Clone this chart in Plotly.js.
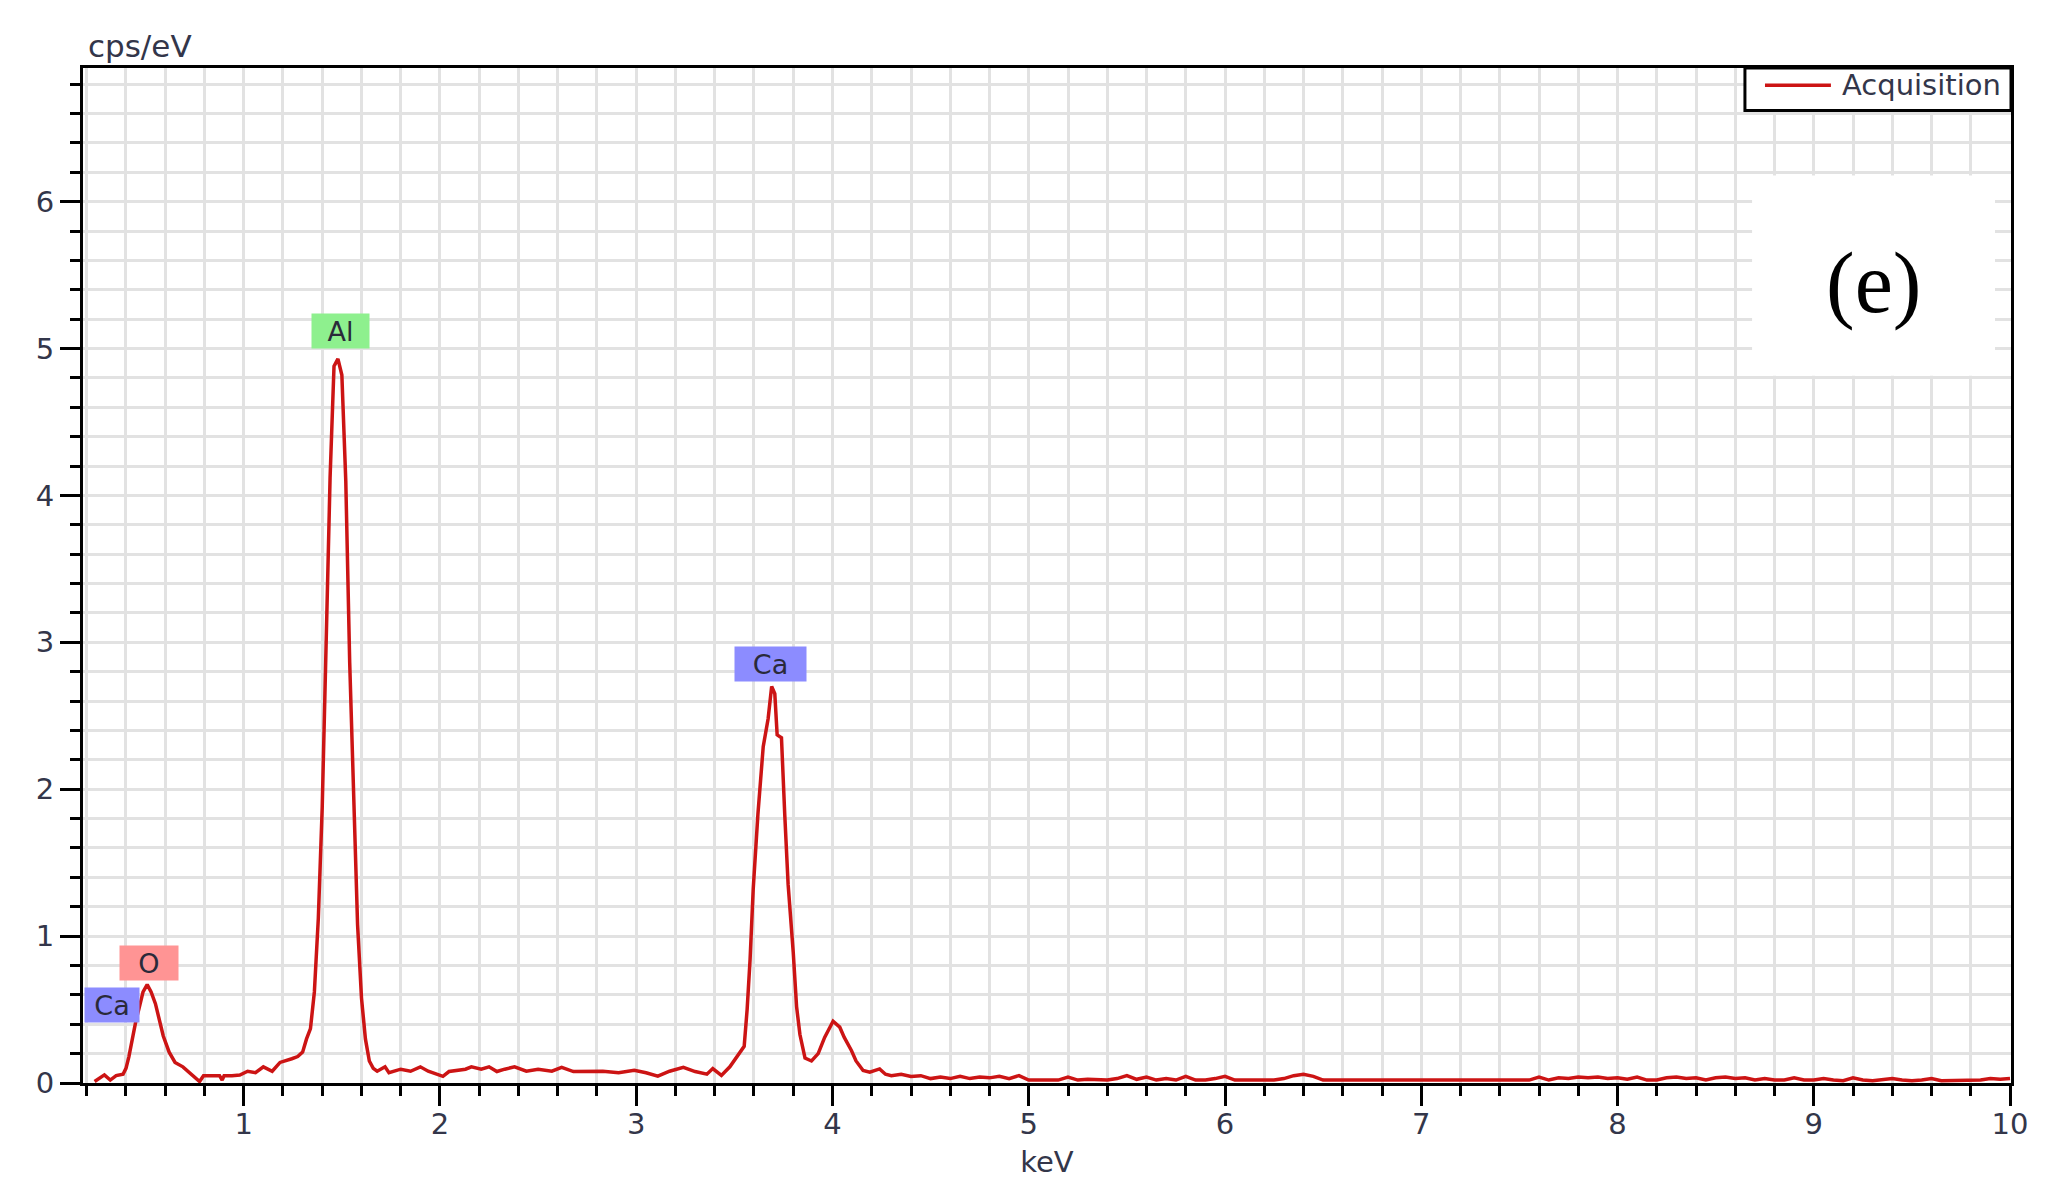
<!DOCTYPE html>
<html>
<head>
<meta charset="utf-8">
<script src="https://cdn.plot.ly/plotly-3.0.1.min.js"></script>
<style>
html,body{margin:0;padding:0;background:#fff;}
#chart{width:2065px;height:1204px;}
</style>
</head>
<body>
<div id="chart"></div>
<script>
// EDS spectrum, energy in keV
const energyKeV = [
  0.24,0.26,0.29,0.32,0.35,0.385,0.40,0.415,0.435,0.45,0.467,0.487,0.508,0.528,0.55,0.57,0.59,0.62,0.65,0.69,0.73,0.775,0.795,0.84,0.877,0.89,0.90,0.94,0.98,1.02,1.06,1.10,1.145,1.185,1.215,1.245,1.275,1.30,1.32,1.34,
  1.36,1.38,1.40,1.42,1.44,1.46,1.48,1.50,1.52,1.54,1.56,1.58,1.60,1.62,1.64,1.66,1.68,1.72,1.74,1.80,1.85,1.90,1.94,2.015,2.046,2.09,2.13,2.16,2.21,2.25,2.29,2.33,2.38,2.44,2.50,2.57,2.62,2.68,2.74,2.83,2.91,2.99,3.05,3.11,3.17,3.24,3.30,3.36,
  3.39,3.434,3.477,3.52,3.55,3.565,3.58,3.596,3.62,3.647,3.672,3.69,3.706,3.718,3.74,3.757,3.774,3.80,3.817,3.834,3.86,3.893,3.927,3.96,4.003,4.037,4.06,4.097,4.12,4.156,4.19,4.24,4.27,
  4.30,4.35,4.40,4.45,4.50,4.55,4.60,4.65,4.70,4.75,4.80,4.85,4.90,4.95,5.00,5.05,5.10,5.15,5.20,5.25,5.30,5.35,5.40,5.45,5.50,5.55,5.60,5.65,5.70,5.75,5.80,5.85,5.90,5.95,6.00,6.05,6.10,6.15,6.20,6.25,6.30,6.35,6.40,6.45,
  6.50,6.60,6.70,6.80,6.90,7.00,7.10,7.20,7.30,7.40,7.50,7.55,7.60,7.65,7.70,7.75,7.80,7.85,7.90,7.95,8.00,8.05,8.10,8.15,8.20,8.25,8.30,8.35,8.40,8.45,8.50,8.55,8.60,8.65,8.70,8.75,8.80,8.85,8.90,8.95,
  9.00,9.05,9.10,9.15,9.20,9.25,9.30,9.35,9.40,9.45,9.50,9.55,9.60,9.65,9.70,9.75,9.80,9.85,9.90,9.95,10.00
];
const cpsPerEV = [
  0.01,0.03,0.055,0.02,0.05,0.06,0.10,0.18,0.32,0.42,0.51,0.62,0.67,0.62,0.54,0.435,0.32,0.21,0.14,0.11,0.06,0.01,0.05,0.05,0.05,0.02,0.05,0.05,0.054,0.08,0.07,0.11,0.08,0.14,0.15,0.165,0.18,0.21,0.30,0.37,
  0.62,1.12,1.88,3.05,4.12,4.88,4.93,4.82,4.10,2.86,1.86,1.08,0.58,0.30,0.15,0.10,0.08,0.11,0.07,0.094,0.08,0.11,0.08,0.045,0.078,0.085,0.094,0.11,0.094,0.11,0.078,0.094,0.11,0.08,0.094,0.08,0.106,0.078,0.078,0.08,0.07,0.087,0.07,0.047,0.08,0.106,0.078,0.06,
  0.098,0.052,0.11,0.19,0.25,0.50,0.84,1.32,1.83,2.29,2.48,2.70,2.65,2.37,2.35,1.82,1.35,0.89,0.52,0.33,0.17,0.15,0.20,0.31,0.42,0.38,0.31,0.22,0.15,0.085,0.074,0.096,0.06,
  0.05,0.06,0.045,0.05,0.03,0.04,0.03,0.045,0.03,0.04,0.035,0.045,0.03,0.05,0.02,0.02,0.025,0.02,0.04,0.02,0.025,0.02,0.02,0.03,0.05,0.025,0.04,0.02,0.03,0.02,0.045,0.02,0.02,0.03,0.045,0.02,0.02,0.025,0.02,0.02,0.03,0.05,0.06,0.045,
  0.02,0.02,0.018,0.02,0.018,0.02,0.018,0.02,0.018,0.02,0.02,0.02,0.04,0.02,0.035,0.03,0.04,0.035,0.04,0.03,0.035,0.025,0.04,0.02,0.02,0.035,0.04,0.03,0.035,0.02,0.035,0.04,0.03,0.035,0.02,0.03,0.02,0.02,0.035,0.02,
  0.02,0.03,0.02,0.015,0.035,0.02,0.015,0.02,0.03,0.02,0.015,0.02,0.03,0.015,0.015,0.02,0.015,0.02,0.03,0.025,0.03
];

// Element line labels
const labelNames   = ['Ca', 'O', 'Al', 'Ca'];
const labelEnergy  = [0.33, 0.517, 1.493, 3.683];
const labelHeight  = [0.53, 0.82, 5.12, 2.85];
const labelColors  = ['#8c8cff', '#ff9494', '#8ef08e', '#8c8cff'];
const labelWidths  = [54, 58, 57, 71];

const seriesName = 'Acquisition';
const xTitle = 'keV';
const yTitle = 'cps/eV';
const panelTag = '(e)';
const lineColor = '#cc1414';

const textFont = {family: 'DejaVu Sans, Verdana, sans-serif', size: 29, color: '#33364a'};
const gridCol = '#e2e2e2';

const annotations = labelNames.map((n, i) => ({
  x: labelEnergy[i], y: labelHeight[i], xref: 'x', yref: 'y',
  text: n, showarrow: false,
  bgcolor: labelColors[i], width: labelWidths[i], height: 34,
  borderpad: 0,
  font: {family: 'DejaVu Sans, Verdana, sans-serif', size: 27, color: '#2a2a3a'}
}));
// y-axis unit label above the plot
annotations.push({
  xref: 'paper', yref: 'paper', x: 0, y: 1.0212, xanchor: 'left', yanchor: 'middle',
  xshift: 3, text: yTitle, showarrow: false,
  font: {family: textFont.family, size: 31, color: textFont.color}
});
// panel tag
annotations.push({
  xref: 'paper', yref: 'paper', x: 0.9287, y: 0.7885, xanchor: 'center', yanchor: 'middle',
  text: panelTag, showarrow: false,
  font: {family: 'Liberation Serif', size: 86, color: '#000'}
});
// legend text
annotations.push({
  xref: 'paper', yref: 'paper', x: 0.9112, y: 0.9831, xanchor: 'left', yanchor: 'middle',
  text: seriesName, showarrow: false, font: textFont
});

const axisCommon = {
  showline: true, linecolor: '#000', linewidth: 3, mirror: true,
  ticks: 'outside', ticklen: 20, tickwidth: 3, tickcolor: '#000',
  showgrid: true, gridcolor: gridCol, gridwidth: 3, zeroline: false,
  tickfont: textFont, tickmode: 'linear', tick0: 0, dtick: 1,
  minor: {ticks: 'outside', ticklen: 10, tickwidth: 3, tickcolor: '#000',
          tick0: 0, dtick: 0.2, showgrid: true, gridcolor: gridCol, gridwidth: 3}
};

const layout = {
  width: 2065, height: 1204,
  margin: {l: 83, r: 54, t: 68, b: 121},
  paper_bgcolor: '#fff', plot_bgcolor: '#fff',
  showlegend: false,
  xaxis: Object.assign({}, axisCommon, {
    range: [0.181, 10.005],
    ticklabelstandoff: -7,
    title: {text: xTitle, font: textFont, standoff: 12}
  }),
  yaxis: Object.assign({}, axisCommon, {
    range: [0, 6.91]
  }),
  shapes: [
    { // white patch behind the panel tag
      type: 'rect', xref: 'paper', yref: 'paper',
      x0: 0.8657, x1: 0.9917, y0: 0.6968, y1: 0.894,
      fillcolor: '#fff', line: {width: 0}, layer: 'above'
    },
    { // legend box
      type: 'rect', xref: 'paper', yref: 'paper',
      x0: 0.862, x1: 1.0, y0: 0.9581, y1: 1.0,
      fillcolor: '#fff', line: {color: '#000', width: 3}, layer: 'above'
    },
    { // legend line sample
      type: 'line', xref: 'paper', yref: 'paper',
      x0: 0.8724, x1: 0.9066, y0: 0.9831, y1: 0.9831,
      line: {color: lineColor, width: 3.5}, layer: 'above'
    }
  ],
  annotations: annotations
};

Plotly.newPlot('chart', [{
  x: energyKeV, y: cpsPerEV, type: 'scatter', mode: 'lines',
  name: seriesName,
  line: {color: lineColor, width: 3.5}
}], layout, {staticPlot: true});
</script>
</body>
</html>
